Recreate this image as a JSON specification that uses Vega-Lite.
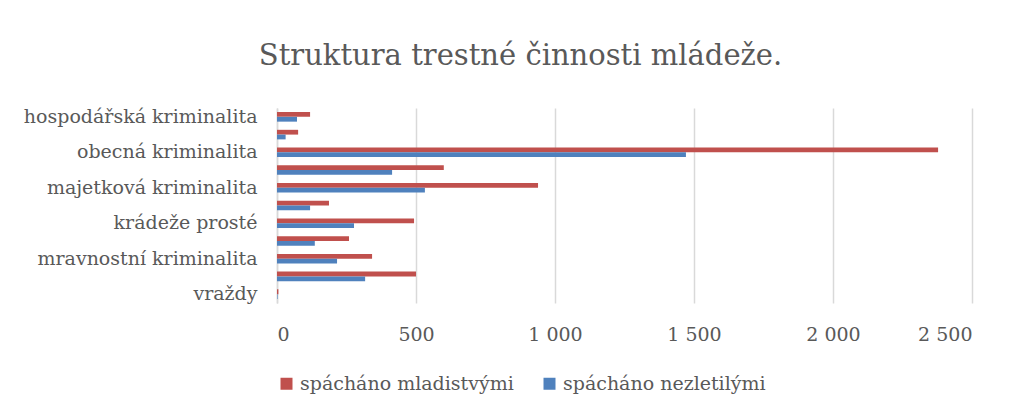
{
  "$schema": "https://vega.github.io/schema/vega-lite/v6.json",
  "autosize": "none",
  "width": 695,
  "height": 195,
  "padding": {"left": 277, "top": 108, "right": 45, "bottom": 109},
  "background": "white",
  "title": {
    "text": "Struktura trestné činnosti mládeže.",
    "font": "DejaVu Serif",
    "fontSize": 29,
    "fontWeight": "normal",
    "color": "#595959",
    "anchor": "middle",
    "dx": -104,
    "offset": 36
  },
  "data": {
    "values": [
      {"kategorie": "hospodářská kriminalita", "skupina": "spácháno mladistvými", "pocet": 119},
      {"kategorie": "hospodářská kriminalita", "skupina": "spácháno nezletilými", "pocet": 72},
      {"kategorie": "zbývající kriminalita", "skupina": "spácháno mladistvými", "pocet": 76},
      {"kategorie": "zbývající kriminalita", "skupina": "spácháno nezletilými", "pocet": 31},
      {"kategorie": "obecná kriminalita", "skupina": "spácháno mladistvými", "pocet": 2378},
      {"kategorie": "obecná kriminalita", "skupina": "spácháno nezletilými", "pocet": 1471},
      {"kategorie": "ostatní kriminalita", "skupina": "spácháno mladistvými", "pocet": 600},
      {"kategorie": "ostatní kriminalita", "skupina": "spácháno nezletilými", "pocet": 414},
      {"kategorie": "majetková kriminalita", "skupina": "spácháno mladistvými", "pocet": 939},
      {"kategorie": "majetková kriminalita", "skupina": "spácháno nezletilými", "pocet": 532},
      {"kategorie": "krádeže vloupáním", "skupina": "spácháno mladistvými", "pocet": 187},
      {"kategorie": "krádeže vloupáním", "skupina": "spácháno nezletilými", "pocet": 119},
      {"kategorie": "krádeže prosté", "skupina": "spácháno mladistvými", "pocet": 493},
      {"kategorie": "krádeže prosté", "skupina": "spácháno nezletilými", "pocet": 277},
      {"kategorie": "loupeže", "skupina": "spácháno mladistvými", "pocet": 259},
      {"kategorie": "loupeže", "skupina": "spácháno nezletilými", "pocet": 136},
      {"kategorie": "mravnostní kriminalita", "skupina": "spácháno mladistvými", "pocet": 342},
      {"kategorie": "mravnostní kriminalita", "skupina": "spácháno nezletilými", "pocet": 216},
      {"kategorie": "násilná kriminalita", "skupina": "spácháno mladistvými", "pocet": 500},
      {"kategorie": "násilná kriminalita", "skupina": "spácháno nezletilými", "pocet": 317},
      {"kategorie": "vraždy", "skupina": "spácháno mladistvými", "pocet": 5},
      {"kategorie": "vraždy", "skupina": "spácháno nezletilými", "pocet": 2}
    ]
  },
  "mark": {"type": "bar"},
  "encoding": {
    "y": {
      "field": "kategorie",
      "type": "nominal",
      "sort": null,
      "scale": {"paddingInner": 0.46, "paddingOuter": 0.23},
      "axis": {
        "title": null,
        "values": ["hospodářská kriminalita", "obecná kriminalita", "majetková kriminalita", "krádeže prosté", "mravnostní kriminalita", "vraždy"],
        "ticks": false,
        "domain": true,
        "domainColor": "#d9d9d9",
        "domainWidth": 1.5,
        "labelFont": "DejaVu Serif",
        "labelFontSize": 19,
        "labelColor": "#595959",
        "labelPadding": 20,
        "labelLimit": 0,
        "grid": false
      }
    },
    "yOffset": {
      "field": "skupina",
      "type": "nominal",
      "sort": ["spácháno mladistvými", "spácháno nezletilými"],
      "scale": {"paddingInner": 0, "paddingOuter": 0}
    },
    "x": {
      "field": "pocet",
      "type": "quantitative",
      "scale": {"domain": [0, 2500], "nice": false},
      "axis": {
        "title": null,
        "values": [0, 500, 1000, 1500, 2000, 2500],
        "labelExpr": "replace(format(datum.value, ',.0f'), ',', ' ')",
        "ticks": false,
        "domain": false,
        "grid": true,
        "gridColor": "#d9d9d9",
        "gridWidth": 1.5,
        "labelFont": "DejaVu Serif",
        "labelFontSize": 19,
        "labelColor": "#595959",
        "labelPadding": 22
      }
    },
    "color": {
      "field": "skupina",
      "type": "nominal",
      "sort": ["spácháno mladistvými", "spácháno nezletilými"],
      "scale": {"domain": ["spácháno mladistvými", "spácháno nezletilými"], "range": ["#C0504D", "#4F81BD"]},
      "legend": {
        "title": null,
        "orient": "none",
        "direction": "horizontal",
        "legendX": 0,
        "legendY": 266,
        "symbolType": "square",
        "symbolSize": 144,
        "symbolStrokeWidth": 0,
        "labelFont": "DejaVu Serif",
        "labelFontSize": 19,
        "labelColor": "#595959",
        "labelOffset": 4,
        "labelLimit": 0,
        "columnPadding": 26
      }
    }
  },
  "config": {"view": {"stroke": null}}
}
